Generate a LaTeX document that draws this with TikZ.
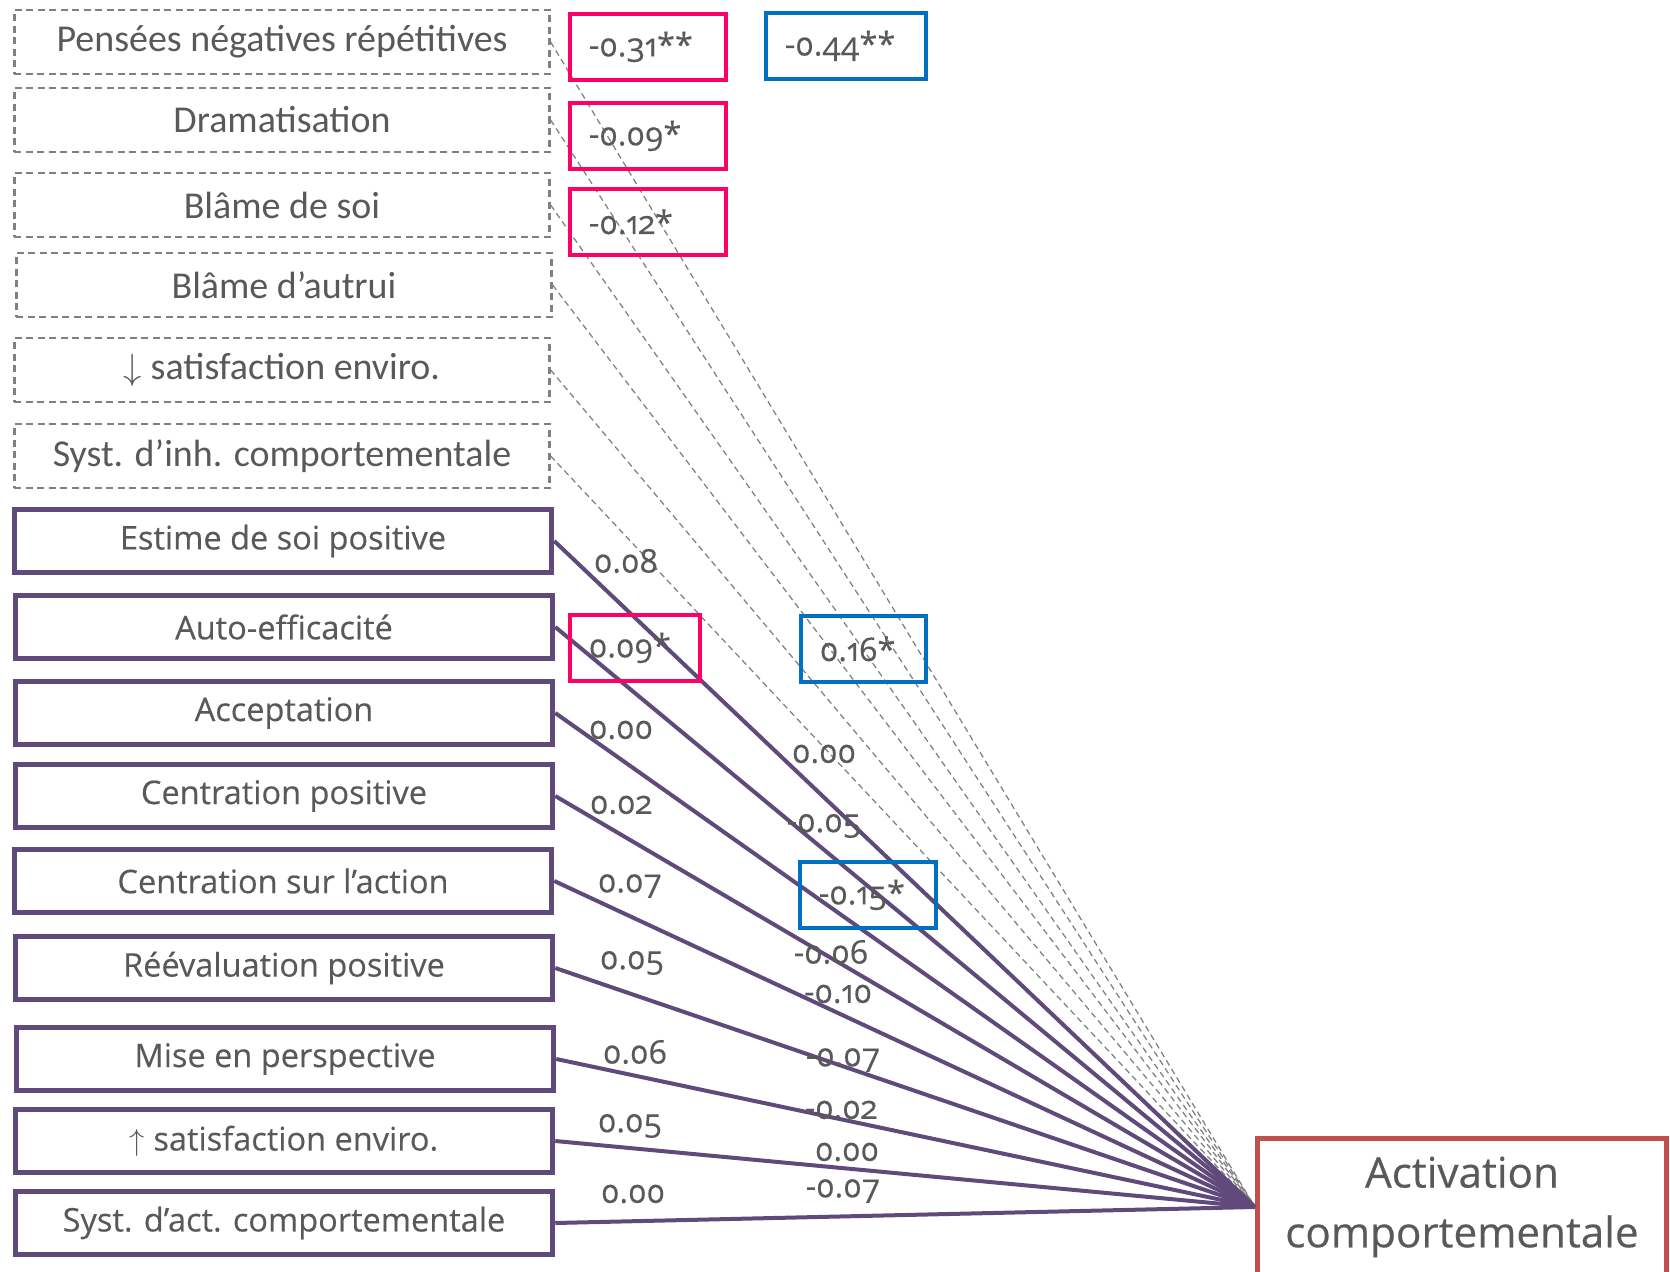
\documentclass[tikz,border=0pt]{standalone}
\usepackage{fontspec}
\setmainfont{Open Sans}[Numbers=OldStyle, FakeBold=0.3]
\newfontfamily\dashfont{Carlito}
\usetikzlibrary{positioning}
\definecolor{txtgray}{RGB}{89,89,89}
\definecolor{dashgray}{RGB}{128,128,128}
\definecolor{boxpurple}{RGB}{96,74,123}
\definecolor{sigpink}{RGB}{255,0,102}
\definecolor{sigblue}{RGB}{0,112,192}
\definecolor{actred}{RGB}{192,80,77}
\newcommand{\coeffont}{\fontsize{18.5}{22}\selectfont}
\tikzset{
  negbox/.style={draw=dashgray, dash pattern=on 1.4mm off 0.9mm, line width=0.45mm, minimum width=107mm, minimum height=12.8mm, inner sep=0pt, text=txtgray, font=\dashfont\fontsize{21.6}{25}\selectfont},
  posbox/.style={draw=boxpurple, line width=1.1mm, minimum width=107.4mm, minimum height=12.6mm, inner sep=0pt, text=txtgray, font=\fontsize{18.5}{22}\selectfont},
  actbox/.style={draw=actred, line width=1.0mm, fill=white, minimum width=81.8mm, minimum height=27.6mm, align=center, text=txtgray, font=\fontsize{24}{34}\selectfont},
  sigred/.style={draw=sigpink, line width=0.75mm, anchor=north west, minimum height=13.2mm, inner xsep=3.8mm, inner ysep=0pt, align=left, text=txtgray, font=\coeffont},
  sigblue/.style={sigred, draw=sigblue},
  coef/.style={text=txtgray, font=\coeffont, inner sep=0pt},
  negline/.style={draw=dashgray, dash pattern=on 1.2mm off 0.8mm, line width=0.25mm},
  posline/.style={draw=boxpurple, line width=0.8mm}
}
\begin{document}
\begin{tikzpicture}[x=0.2mm, y=-0.2mm]
	\useasboundingbox (0,0) rectangle (1670,1272);

	% predicteurs negatifs
	\node [negbox] (pnr) at (282,42) {Pensées négatives répétitives};
	\node [negbox] (dram) at (282,120) {Dramatisation};
	\node [negbox] (bsoi) at (282,205) {Blâme de soi};
	\node [negbox] (baut) at (284,285) {Blâme d’autrui};
	\node [negbox] (sdown) at (282,370) {$\downarrow$ satisfaction enviro.};
	\node [negbox] (sinh) at (282,456) {Syst. d’inh. comportementale};

	% predicteurs positifs
	\node [posbox] (esp) at (283,541) {Estime de soi positive};
	\node [posbox] (aeff) at (284,627) {Auto-efficacité};
	\node [posbox] (accep) at (284,713) {Acceptation};
	\node [posbox] (cpos) at (284,796) {Centration positive};
	\node [posbox] (cact) at (283,881) {Centration sur l’action};
	\node [posbox] (reev) at (284,968) {Réévaluation positive};
	\node [posbox] (mep) at (285,1059) {Mise en perspective};
	\node [posbox] (satup) at (284,1141) {$\uparrow$ satisfaction enviro.};
	\node [posbox] (sact) at (284,1223) {Syst. d’act. comportementale};

	\node [actbox] (act) at (1462,1207) {Activation\\comportementale};

	\draw [negline] (pnr.east) -- (act.west);
	\draw [negline] (dram.east) -- (act.west);
	\draw [negline] (bsoi.east) -- (act.west);
	\draw [negline] (baut.east) -- (act.west);
	\draw [negline] (sdown.east) -- (act.west);
	\draw [negline] (sinh.east) -- (act.west);

	\draw [posline] (esp.east) -- (act.west);
	\draw [posline] (aeff.east) -- (act.west);
	\draw [posline] (accep.east) -- (act.west);
	\draw [posline] (cpos.east) -- (act.west);
	\draw [posline] (cact.east) -- (act.west);
	\draw [posline] (reev.east) -- (act.west);
	\draw [posline] (mep.east) -- (act.west);
	\draw [posline] (satup.east) -- (act.west);
	\draw [posline] (sact.east) -- (act.west);

	% coefficients significatifs
	\node [sigred, text width=23.6mm] (rpnr) at (568,12) {-0.31**};
	\node [sigred, text width=23.6mm] (rdram) at (568,101) {-0.09*};
	\node [sigred, text width=23.6mm] (rbsoi) at (568,187) {-0.12*};
	\node [sigred, text width=18.4mm] (raeff) at (568,613) {0.09*};
	\node [sigblue, text width=24.4mm] (bpnr) at (764,11) {-0.44**};
	\node [sigblue, text width=17.4mm] (baeff) at (799,614) {0.16*};
	\node [sigblue, text width=19.6mm] (bcact) at (798,860) {-0.15*};

	% coefficients non significatifs
	\node [coef] (c1) at (626,561) {0.08};
	\node [coef] (c2) at (621,730) {0.00};
	\node [coef] (c3) at (621,805) {0.02};
	\node [coef] (c4) at (630,886) {0.07};
	\node [coef] (c5) at (632,963) {0.05};
	\node [coef] (c6) at (635,1052) {0.06};
	\node [coef] (c7) at (630,1126) {0.05};
	\node [coef] (c8) at (633,1194) {0.00};
	\node [coef] (d1) at (824,754) {0.00};
	\node [coef] (d2) at (824,826) {-0.05};
	\node [coef] (d3) at (831,952) {-0.06};
	\node [coef] (d4) at (838,994) {-0.10};
	\node [coef] (d5) at (843,1060) {-0.07};
	\node [coef] (d6) at (841,1110) {-0.02};
	\node [coef] (d7) at (847,1152) {0.00};
	\node [coef] (d8) at (843,1191) {-0.07};

\end{tikzpicture}
\end{document}
